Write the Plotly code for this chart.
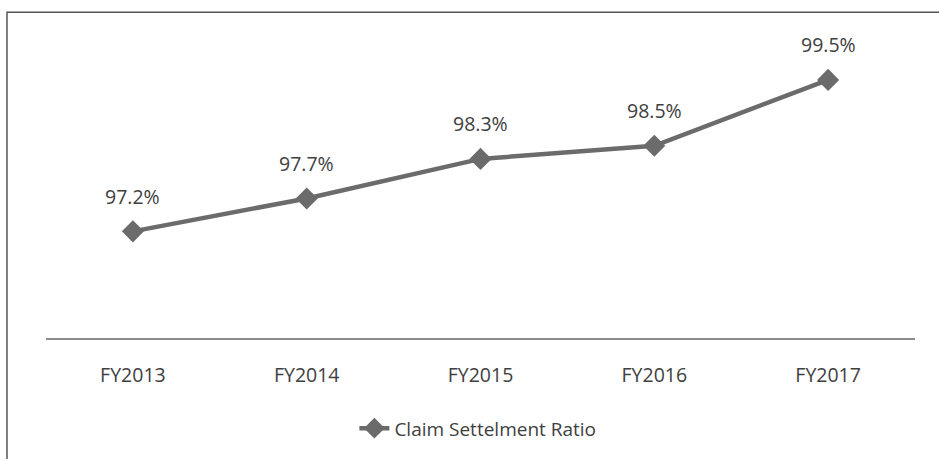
import plotly.graph_objects as go

categories = ["FY2013", "FY2014", "FY2015", "FY2016", "FY2017"]
ratios = [97.2, 97.7, 98.3, 98.5, 99.5]
labels = ["97.2%", "97.7%", "98.3%", "98.5%", "99.5%"]
series_name = "Claim Settelment Ratio"

line_color = "#6b6b6b"
text_color = "#404040"
font_family = "Open Sans, Noto Sans, sans-serif"

fig = go.Figure()
fig.add_trace(go.Scatter(
    x=categories, y=ratios, mode="lines+markers", name=series_name,
    line=dict(color=line_color, width=4.5),
    marker=dict(symbol="diamond", size=17, color=line_color),
))

for c, v, t in zip(categories, ratios, labels):
    fig.add_annotation(x=c, y=v, text=t, showarrow=False, yshift=35,
                       font=dict(size=19.5, color=text_color, family=font_family))

fig.add_shape(type="rect", xref="paper", yref="paper",
              x0=-0.0449, x1=1.2, y0=-0.6, y1=1.119,
              line=dict(color="#555555", width=1.5), layer="below")

fig.update_layout(
    width=939, height=459,
    margin=dict(l=46, r=24, t=47, b=118),
    paper_bgcolor="white", plot_bgcolor="white",
    font=dict(family=font_family, color=text_color, size=19),
    showlegend=True,
    legend=dict(orientation="h", x=0.497, xanchor="center", y=-0.245, yanchor="top",
                font=dict(size=19, color=text_color, family=font_family)),
    xaxis=dict(showgrid=False, showline=True, linecolor="#8c8c8c", linewidth=2,
               range=[-0.5, 4.5],
               ticks="", tickfont=dict(size=19.5, color=text_color), ticklabelstandoff=19),
    yaxis=dict(visible=False, range=[95.58, 100.0]),
)

fig.write_html("out.html", config={"displayModeBar": False},
               post_script="document.body.style.margin='0';")
